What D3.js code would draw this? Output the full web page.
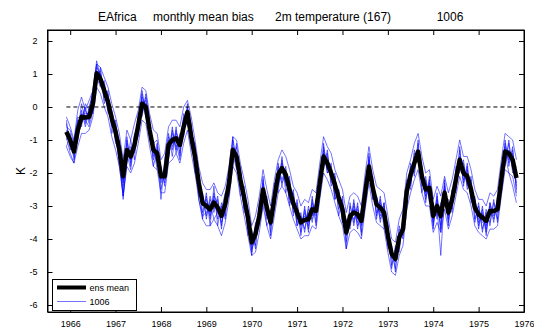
<!DOCTYPE html>
<html><head><meta charset="utf-8">
<script src="https://cdn.jsdelivr.net/npm/d3@7"></script>
<style>
html,body{margin:0;padding:0;background:#fff;}
svg{display:block;font-family:"Liberation Sans",Arial,Helvetica,sans-serif;}
</style></head>
<body>
<svg id="c" width="534" height="330"></svg>
<script>
// ---------------- data ----------------
const titleParts = ["EAfrica", "monthly mean bias", "2m temperature (167)", "1006"];
const yLabel = "K";
const xTickYears = [1966,1967,1968,1969,1970,1971,1972,1973,1974,1975,1976];
const yTickValues = [2,1,0,-1,-2,-3,-4,-5,-6];
const legendLabels = ["ens mean", "1006"];
const startYear = 1965, startMonth = 12; // first monthly value: Dec 1965

const ensMean = [
-0.75,-1.00,-1.35,-0.70,-0.30,-0.32,-0.30,0.10,1.02,0.85,
0.50,0.15,-0.35,-0.75,-1.30,-2.10,-1.30,-1.50,-1.15,-0.55,
0.10,0.00,-0.70,-1.30,-1.40,-2.10,-2.10,-1.15,-1.00,-0.95,
-1.15,-0.60,-0.15,-0.90,-1.50,-2.30,-2.90,-3.00,-3.10,-2.90,
-3.05,-3.30,-2.95,-2.30,-1.30,-1.50,-2.20,-2.75,-3.35,-4.10,
-3.85,-3.30,-2.50,-3.05,-3.50,-2.75,-2.05,-1.85,-2.05,-2.50,
-2.92,-3.20,-3.50,-3.42,-3.40,-3.10,-3.15,-2.30,-1.50,-1.70,
-2.00,-2.35,-2.75,-3.10,-3.80,-3.30,-3.20,-3.25,-3.45,-2.60,
-1.80,-2.45,-2.95,-3.05,-3.20,-3.90,-4.45,-4.60,-3.95,-3.70,
-2.55,-2.05,-1.70,-1.35,-2.10,-2.50,-2.45,-3.30,-3.00,-3.30,
-2.60,-3.20,-2.80,-2.20,-1.60,-2.00,-2.10,-2.50,-3.05,-3.25,
-3.35,-3.45,-3.15,-3.15,-3.10,-2.20,-1.35,-1.40,-1.60,-2.15];

const member1 = [
-0.5,-1.2,-1.3,-0.3,-0.4,0.0,-0.5,0.3,1.3,0.8,
0.6,-0.1,-0.3,-1.0,-1.2,-2.4,-1.0,-1.7,-0.9,-0.7,
0.5,-0.2,-0.6,-1.6,-1.2,-2.3,-1.8,-1.4,-0.7,-1.3,
-0.9,-0.8,0.1,-1.1,-1.3,-2.6,-2.7,-3.3,-2.8,-3.1,
-2.8,-3.6,-2.8,-2.5,-1.0,-1.7,-2.0,-3.1,-3.2,-4.4,
-3.6,-3.5,-2.2,-3.3,-3.2,-3.0,-1.8,-2.2,-1.9,-2.8,
-2.6,-3.5,-3.3,-3.7,-3.1,-3.3,-2.9,-2.6,-1.2,-1.9,
-1.8,-2.7,-2.6,-3.4,-3.5,-3.6,-2.9,-3.5,-3.2,-2.9,
-1.5,-2.7,-2.8,-3.4,-3.0,-4.2,-4.3,-4.9,-3.7,-3.9,
-2.3,-2.4,-1.4,-1.6,-1.9,-2.8,-2.2,-3.6,-2.7,-3.6,
-2.3,-3.5,-2.6,-2.5,-1.3,-2.3,-1.8,-2.8,-2.8,-3.6,
-3.1,-3.8,-3.0,-3.4,-2.8,-2.5,-1.1,-1.7,-1.3,-2.5];
const member2 = [
-1.0,-0.8,-1.6,-0.9,-0.1,-0.6,-0.1,-0.2,0.8,1.1,
0.3,0.4,-0.6,-0.5,-1.5,-1.8,-1.6,-1.2,-1.4,-0.3,
-0.2,0.3,-0.9,-1.0,-1.7,-1.8,-2.4,-0.9,-1.3,-0.7,
-1.4,-0.3,-0.4,-0.6,-1.8,-2.0,-3.2,-2.7,-3.4,-2.6,
-3.4,-3.0,-3.3,-2.0,-1.6,-1.2,-2.5,-2.5,-3.7,-3.8,
-4.2,-3.0,-2.8,-2.8,-3.8,-2.5,-2.4,-1.6,-2.4,-2.2,
-3.2,-2.9,-3.8,-3.1,-3.7,-2.8,-3.5,-2.0,-1.8,-1.4,
-2.3,-2.1,-3.1,-2.8,-4.1,-3.0,-3.5,-3.0,-3.8,-2.3,
-2.1,-2.2,-3.3,-2.8,-3.5,-3.6,-4.8,-4.3,-4.3,-3.4,
-2.9,-1.8,-2.0,-1.1,-2.4,-2.2,-2.8,-3.0,-3.3,-3.0,
-2.9,-2.9,-3.1,-1.9,-1.9,-1.7,-2.4,-2.2,-3.4,-3.0,
-3.7,-3.2,-3.5,-2.9,-3.4,-1.9,-1.7,-1.1,-1.9,-1.9];
const member3 = [
-0.6,-0.7,-1.1,-0.9,-0.5,-0.1,-0.4,0.0,1.2,1.0,
0.2,0.3,-0.2,-0.9,-1.6,-2.0,-1.5,-1.3,-1.3,-0.4,
0.3,-0.1,-0.5,-1.5,-1.1,-2.5,-1.9,-1.0,-1.2,-0.8,
-1.0,-0.5,-0.3,-1.2,-1.6,-2.5,-3.0,-2.8,-3.3,-2.7,
-2.9,-3.5,-3.1,-2.1,-1.5,-1.4,-2.4,-2.7,-3.5,-4.0,
-3.7,-3.4,-2.3,-3.2,-3.6,-2.6,-2.2,-1.7,-2.3,-2.4,
-3.0,-3.3,-3.6,-3.2,-3.6,-2.9,-3.3,-2.1,-1.6,-1.5,
-2.1,-2.5,-2.9,-2.9,-3.9,-3.2,-3.4,-3.1,-3.6,-2.4,
-1.9,-2.3,-3.2,-2.9,-3.4,-3.8,-4.6,-4.5,-4.1,-3.6,
-2.7,-2.0,-1.8,-1.3,-2.3,-2.4,-2.6,-3.2,-3.1,-3.2,
-2.7,-3.1,-2.9,-2.0,-1.7,-1.9,-2.2,-2.4,-3.2,-3.2,
-3.5,-3.4,-3.3,-3.1,-3.2,-2.0,-1.5,-1.3,-1.7,-2.0];
const member4 = [
-0.9,-1.4,-1.7,-0.5,-0.2,-0.5,0.0,0.4,0.9,0.6,
0.8,0.0,-0.1,-0.6,-1.8,-2.6,-1.4,-1.9,-1.0,-0.9,
0.0,0.2,-1.0,-1.2,-1.9,-1.9,-2.3,-1.5,-0.8,-1.1,
-1.6,-0.4,-0.1,-0.7,-1.2,-2.8,-3.3,-3.2,-2.9,-3.4,
-3.2,-3.1,-2.6,-2.7,-1.4,-1.9,-1.8,-2.9,-3.6,-4.3,
-4.0,-3.1,-2.7,-3.6,-3.3,-3.1,-1.9,-2.3,-2.0,-2.9,
-2.8,-3.6,-3.4,-3.5,-3.2,-3.4,-3.0,-2.5,-1.3,-2.0,
-1.9,-2.8,-2.5,-3.5,-3.6,-3.5,-3.0,-3.6,-3.3,-2.8,
-1.6,-2.8,-2.7,-3.3,-2.9,-4.1,-4.4,-4.7,-3.9,-3.8,
-2.4,-2.3,-1.6,-1.5,-2.0,-2.7,-2.3,-3.5,-2.8,-3.7,
-2.4,-3.4,-2.5,-2.4,-1.5,-2.2,-1.9,-2.7,-2.9,-3.5,
-3.2,-3.7,-2.9,-3.3,-3.0,-2.4,-1.2,-1.6,-1.4,-2.4];
const member5 = [
-0.7,-1.1,-1.5,-0.6,-0.4,-0.2,-0.2,0.2,1.1,0.7,
0.4,0.0,-0.5,-0.8,-1.1,-2.3,-1.1,-1.6,-1.1,-0.5,
0.2,-0.3,-0.8,-1.4,-1.5,-2.2,-2.0,-1.3,-0.9,-1.2,
-1.1,-0.7,-0.2,-0.8,-1.4,-2.4,-2.8,-3.1,-3.0,-2.8,
-3.0,-3.2,-2.9,-2.4,-1.2,-1.6,-2.3,-2.8,-3.3,-4.2,
-3.8,-3.2,-2.6,-3.0,-3.4,-2.7,-2.0,-2.0,-2.2,-2.6,
-2.9,-3.1,-3.5,-3.3,-3.5,-3.0,-3.1,-2.4,-1.4,-1.8,
-2.0,-2.3,-2.8,-3.2,-3.7,-3.4,-3.1,-3.4,-3.4,-2.5,
-1.7,-2.6,-3.0,-3.2,-3.1,-4.0,-4.5,-4.6,-4.0,-3.7,
-2.5,-2.2,-1.7,-1.4,-2.2,-2.6,-2.4,-3.4,-2.9,-3.4,
-2.5,-3.3,-2.7,-2.3,-1.6,-2.1,-2.0,-2.6,-3.0,-3.4,
-3.3,-3.6,-3.1,-3.2,-3.0,-2.3,-1.3,-1.5,-1.5,-2.3];
const member6 = [
-1.2,-0.9,-1.2,-0.8,0.1,-0.4,-0.6,-0.1,0.7,1.2,
0.1,0.5,-0.8,-0.4,-1.4,-2.7,-1.7,-1.0,-1.6,-0.2,
-0.3,0.4,-0.4,-1.8,-1.3,-2.8,-1.6,-0.8,-1.5,-0.6,
-1.5,-0.2,-0.6,-0.5,-2.0,-2.2,-3.4,-2.6,-3.6,-2.4,
-3.6,-2.9,-3.4,-1.9,-1.8,-1.1,-2.7,-2.4,-3.9,-3.7,
-4.3,-2.9,-3.0,-2.7,-3.9,-2.3,-2.6,-1.5,-2.6,-2.1,
-3.3,-2.8,-3.9,-3.0,-3.8,-2.7,-3.6,-1.9,-1.9,-1.3,
-2.4,-2.0,-3.3,-2.7,-4.3,-2.9,-3.6,-2.9,-3.9,-2.2,
-2.2,-2.1,-3.4,-2.7,-3.7,-3.5,-4.9,-4.2,-4.4,-3.3,
-3.0,-1.7,-2.1,-1.0,-2.6,-2.1,-2.9,-2.9,-3.4,-2.9,
-3.0,-2.8,-3.2,-1.8,-2.0,-1.6,-2.5,-2.1,-3.5,-2.9,
-3.8,-3.1,-3.6,-2.8,-3.5,-1.8,-1.8,-1.0,-2.0,-1.8];
const member7 = [
-0.4,-1.3,-1.0,-0.4,-0.6,0.1,-0.1,0.5,1.4,0.9,
0.7,-0.2,-0.2,-1.1,-1.0,-2.2,-0.9,-1.8,-0.8,-0.8,
0.4,-0.2,-0.6,-1.1,-1.0,-2.0,-2.2,-1.6,-0.6,-1.4,
-0.8,-0.9,0.0,-1.0,-1.1,-2.7,-2.6,-3.4,-2.7,-3.2,
-2.7,-3.7,-2.7,-2.6,-0.9,-1.8,-1.9,-3.2,-3.1,-4.5,
-3.5,-3.6,-2.1,-3.4,-3.1,-3.1,-1.7,-2.4,-1.8,-3.0,
-2.5,-3.6,-3.2,-3.8,-3.0,-3.5,-2.8,-2.7,-1.1,-2.0,
-1.7,-2.8,-2.5,-3.5,-3.4,-3.7,-2.8,-3.7,-3.1,-3.0,
-1.4,-2.8,-2.7,-3.5,-2.9,-4.3,-4.2,-5.0,-3.6,-4.0,
-2.2,-2.5,-1.3,-1.7,-1.8,-2.9,-2.1,-3.7,-2.6,-3.8,
-2.2,-3.6,-2.5,-2.6,-1.2,-2.4,-1.7,-2.9,-2.7,-3.7,
-3.0,-3.9,-2.9,-3.5,-2.7,-2.6,-1.0,-1.8,-1.2,-2.6];
const member8 = [
-0.8,-0.9,-1.4,-1.0,-0.3,-0.4,-0.3,0.0,1.0,1.0,
0.5,0.2,-0.4,-0.7,-1.3,-2.8,-1.4,-1.4,-1.2,-0.6,
0.1,0.1,-0.8,-1.3,-1.4,-2.0,-2.1,-1.2,-1.1,-0.9,
-1.2,-0.6,-0.2,-0.9,-1.6,-2.3,-2.9,-3.0,-3.2,-2.9,
-3.1,-3.3,-3.0,-2.2,-1.4,-1.5,-2.2,-2.7,-3.4,-4.0,
-3.9,-3.3,-2.5,-3.0,-3.5,-2.8,-2.1,-1.9,-2.1,-2.5,
-2.9,-3.2,-3.4,-3.4,-3.4,-3.1,-3.2,-2.3,-1.5,-1.7,
-2.0,-2.4,-2.8,-3.1,-3.8,-3.3,-3.2,-3.3,-3.5,-2.6,
-1.8,-2.5,-3.0,-3.1,-3.2,-3.9,-4.5,-4.6,-4.0,-3.7,
-2.6,-2.1,-1.7,-1.4,-2.1,-2.5,-2.5,-3.3,-3.0,-4.5,
-2.6,-3.2,-2.8,-2.2,-1.6,-2.0,-2.1,-2.5,-3.1,-3.3,
-3.4,-3.5,-3.2,-3.2,-3.1,-2.2,-1.4,-2.0,-2.4,-2.9];
const member9 = [
-0.3,-0.6,-1.0,-0.1,0.3,-0.1,0.2,0.5,1.3,1.2,
0.9,0.6,0.1,-0.3,-0.8,-1.6,-0.7,-1.0,-0.5,-0.1,
0.6,0.5,-0.2,-0.7,-0.8,-1.6,-1.4,-0.6,-0.4,-0.4,
-0.6,0.0,0.2,-0.3,-1.0,-1.8,-2.3,-2.5,-2.5,-2.3,
-2.6,-2.7,-2.4,-1.8,-0.9,-1.0,-1.7,-2.2,-2.8,-3.6,
-3.3,-2.7,-1.9,-2.5,-3.0,-2.2,-1.6,-1.3,-1.5,-1.9,
-2.4,-2.6,-3.0,-2.8,-2.9,-2.5,-2.6,-1.7,-0.9,-1.2,
-1.4,-1.9,-2.2,-2.5,-3.2,-2.7,-2.6,-2.7,-3.0,-2.0,
-1.2,-1.9,-2.4,-2.5,-2.6,-3.3,-4.0,-4.1,-3.4,-3.1,
-2.0,-1.6,-1.1,-0.8,-1.5,-2.0,-1.9,-2.8,-2.4,-2.7,
-2.1,-2.6,-2.2,-1.6,-1.0,-1.5,-1.5,-1.9,-2.5,-2.8,
-2.8,-3.0,-2.6,-2.7,-2.5,-1.6,-0.8,-0.9,-1.0,-1.6];
const member10 = [
-1.2,-1.5,-1.7,-1.2,-0.8,-0.8,-0.7,-0.3,0.6,0.4,
0.0,-0.3,-0.9,-1.3,-1.8,-2.7,-1.8,-2.0,-1.7,-1.1,
-0.4,-0.5,-1.2,-1.8,-1.9,-2.6,-2.6,-1.7,-1.6,-1.4,
-1.7,-1.1,-0.7,-1.4,-2.0,-2.8,-3.4,-3.6,-3.6,-3.4,
-3.6,-3.9,-3.5,-2.8,-1.8,-2.0,-2.7,-3.3,-3.9,-4.5,
-4.4,-3.8,-3.0,-3.6,-4.0,-3.3,-2.6,-2.4,-2.6,-3.0,
-3.4,-3.7,-4.0,-3.9,-3.9,-3.6,-3.7,-2.8,-2.0,-2.2,
-2.5,-2.9,-3.3,-3.6,-4.3,-3.8,-3.7,-3.8,-4.0,-3.1,
-2.3,-3.0,-3.5,-3.6,-3.7,-4.4,-5.0,-5.1,-4.5,-4.2,
-3.1,-2.6,-2.2,-1.9,-2.6,-3.0,-3.0,-3.8,-3.5,-3.8,
-3.1,-3.7,-3.3,-2.7,-2.1,-2.5,-2.6,-3.0,-3.6,-3.8,
-3.9,-4.0,-3.7,-3.7,-3.6,-2.7,-1.9,-2.0,-2.1,-2.7];
const members = [member1, member2, member3, member4, member5, member6, member7, member8, member9, member10];

// ---------------- layout ----------------
const m = {left: 47.5, right: 524, top: 30, bottom: 312};
const svg = d3.select("#c");
const timeOf = i => startYear + (startMonth - 1 + i) / 12;

const x = d3.scaleLinear().domain([1965.5, 1976]).range([m.left, m.right]);
const y = d3.scaleLinear().domain([-6.212, 2.333]).range([m.bottom, m.top]);

svg.append("defs").append("clipPath").attr("id","clip")
  .append("rect").attr("x", m.left).attr("y", m.top)
  .attr("width", m.right - m.left).attr("height", m.bottom - m.top);

const plot = svg.append("g").attr("clip-path","url(#clip)");
const line = d3.line().x((d,i) => x(timeOf(i))).y(d => y(d));

// ensemble members
plot.selectAll("path.member").data(members).enter().append("path")
  .attr("class","member")
  .attr("d", line)
  .attr("fill","none").attr("stroke","#0000ff").attr("stroke-width",0.55);

// zero dashed line across data span
plot.append("line")
  .attr("x1", x(timeOf(0))).attr("x2", x(timeOf(ensMean.length - 1)))
  .attr("y1", y(0)).attr("y2", y(0))
  .attr("stroke","#000").attr("stroke-width",1).attr("stroke-dasharray","4,3");

// ensemble mean
plot.append("path").datum(ensMean).attr("d", line)
  .attr("fill","none").attr("stroke","#000").attr("stroke-width",4.5)
  .attr("stroke-linejoin","round");

// axes (ticks inside)
const fontSize = 9;
const gx = svg.append("g").attr("transform",`translate(0,${m.bottom})`)
  .call(d3.axisBottom(x).tickValues(xTickYears).tickFormat(d3.format("d")).tickSizeInner(-5).tickSizeOuter(0).tickPadding(9));
const gxt = svg.append("g").attr("transform",`translate(0,${m.top})`)
  .call(d3.axisTop(x).tickValues(xTickYears).tickFormat("").tickSizeInner(-5).tickSizeOuter(0));
const gy = svg.append("g").attr("transform",`translate(${m.left},0)`)
  .call(d3.axisLeft(y).tickValues(yTickValues).tickFormat(d3.format("d")).tickSizeInner(-5).tickSizeOuter(0).tickPadding(10));
const gyr = svg.append("g").attr("transform",`translate(${m.right},0)`)
  .call(d3.axisRight(y).tickValues(yTickValues).tickFormat("").tickSizeInner(-5).tickSizeOuter(0));
[gx,gxt,gy,gyr].forEach(g => {
  g.selectAll(".domain").attr("stroke","#000").attr("stroke-width",1);
  g.selectAll(".tick line").attr("stroke","#000");
  g.selectAll("text").attr("font-size",fontSize).attr("fill","#000")
    .attr("font-family",'"Liberation Sans",Arial,sans-serif');
});
gy.selectAll("text").text(d => d < 0 ? "-" + Math.abs(d) : d);

// frame
svg.append("rect").attr("x", m.left).attr("y", m.top)
  .attr("width", m.right - m.left).attr("height", m.bottom - m.top)
  .attr("fill","none").attr("stroke","#000").attr("stroke-width",1);

// y label
svg.append("text").attr("transform",`translate(25,${(m.top+m.bottom)/2}) rotate(-90)`)
  .attr("text-anchor","middle").attr("font-size",12).text(yLabel);

// title
const titleX = [98, 153, 275, 436.7];
const t = svg.append("text").attr("y",20.5).attr("font-size",12).attr("fill","#000");
t.selectAll("tspan").data(titleParts).enter().append("tspan")
  .attr("x",(d,i)=>titleX[i]).text(d=>d);

// legend
const lg = svg.append("g");
lg.append("rect").attr("x",52.5).attr("y",279.5).attr("width",84).attr("height",31)
  .attr("fill","#fff").attr("stroke","#000").attr("stroke-width",1);
const lx1 = 57, lx2 = 86;
lg.append("line").attr("x1",lx1).attr("x2",lx2).attr("y1",287.5).attr("y2",287.5)
  .attr("stroke","#000").attr("stroke-width",4);
lg.append("line").attr("x1",lx1).attr("x2",lx2).attr("y1",301.5).attr("y2",301.5)
  .attr("stroke","#0000ff").attr("stroke-width",0.55);
lg.selectAll("text.lab").data(legendLabels).enter().append("text")
  .attr("class","lab").attr("x",89.5).attr("y",(d,i)=>291 + i*14)
  .attr("font-size",9).text(d=>d);
</script>
</body></html>
